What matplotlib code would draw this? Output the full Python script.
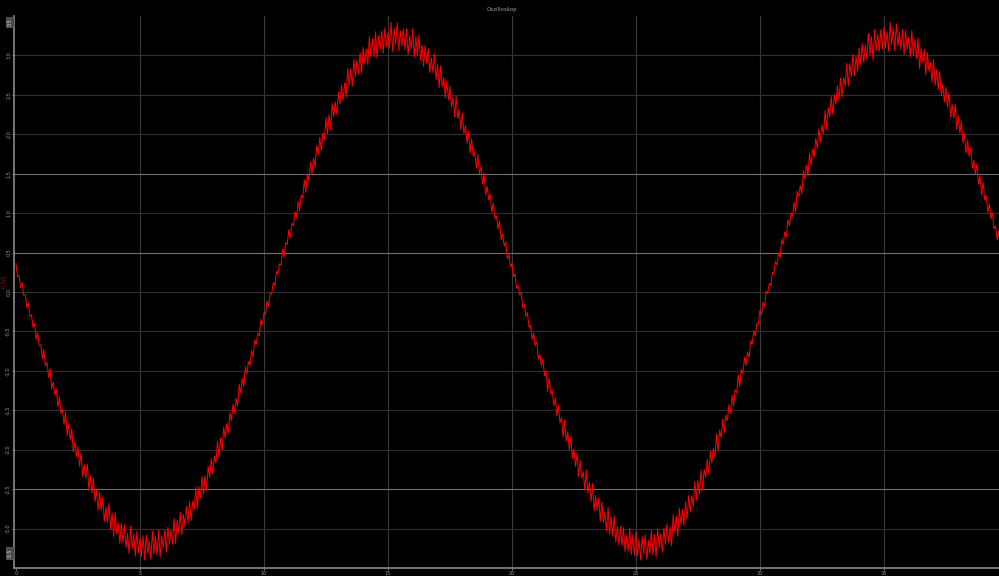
import matplotlib
matplotlib.use("Agg")
import matplotlib.pyplot as plt
import numpy as np

# scope trace read off the screen, sampled every 0.0625 time units:
# upper = tops of the noise band (t = 0, 0.125, ...),
# lower = bottoms of the noise band (t = 0.0625, 0.1875, ...)
sample_dt = 0.0625
upper = [
    0.36, 0.21, 0.12, -0.03, -0.14, -0.29, -0.40, -0.51, -0.67, -0.73,
    -0.89, -0.97, -1.14, -1.23, -1.33, -1.49, -1.52, -1.67, -1.73, -1.90,
    -1.96, -2.04, -2.19, -2.18, -2.33, -2.36, -2.51, -2.54, -2.60, -2.73,
    -2.68, -2.80, -2.80, -2.93, -2.93, -2.95, -3.06, -2.97, -3.07, -3.03,
    -3.13, -3.09, -3.08, -3.16, -3.03, -3.10, -3.02, -3.09, -3.02, -2.98,
    -3.02, -2.87, -2.89, -2.79, -2.82, -2.72, -2.65, -2.65, -2.47, -2.47,
    -2.34, -2.33, -2.21, -2.11, -2.08, -1.89, -1.85, -1.71, -1.67, -1.53,
    -1.42, -1.35, -1.17, -1.10, -0.95, -0.88, -0.74, -0.61, -0.52, -0.35,
    -0.26, -0.11, -0.02, 0.12, 0.26, 0.36, 0.54, 0.63, 0.79, 0.87,
    1.02, 1.15, 1.23, 1.42, 1.50, 1.65, 1.70, 1.85, 1.96, 2.02,
    2.21, 2.25, 2.39, 2.41, 2.53, 2.63, 2.65, 2.83, 2.83, 2.95,
    2.94, 3.04, 3.10, 3.08, 3.24, 3.21, 3.30, 3.25, 3.31, 3.35,
    3.29, 3.42, 3.35, 3.41, 3.31, 3.34, 3.34, 3.25, 3.34, 3.24,
    3.26, 3.13, 3.13, 3.09, 2.97, 3.02, 2.89, 2.87, 2.72, 2.68,
    2.61, 2.47, 2.48, 2.32, 2.27, 2.11, 2.04, 1.94, 1.78, 1.75,
    1.59, 1.51, 1.34, 1.24, 1.13, 0.96, 0.90, 0.74, 0.64, 0.47,
    0.36, 0.23, 0.08, -0.01, -0.16, -0.26, -0.42, -0.52, -0.63, -0.79,
    -0.85, -1.00, -1.09, -1.25, -1.34, -1.44, -1.59, -1.62, -1.77, -1.83,
    -1.99, -2.05, -2.13, -2.28, -2.26, -2.41, -2.43, -2.58, -2.61, -2.66,
    -2.79, -2.73, -2.85, -2.84, -2.97, -2.97, -2.99, -3.09, -2.99, -3.08,
    -3.04, -3.14, -3.10, -3.08, -3.15, -3.02, -3.08, -3.00, -3.07, -2.99,
    -2.94, -2.98, -2.82, -2.84, -2.74, -2.76, -2.66, -2.58, -2.58, -2.40,
    -2.39, -2.26, -2.25, -2.12, -2.02, -1.98, -1.80, -1.75, -1.61, -1.56,
    -1.43, -1.31, -1.24, -1.05, -0.98, -0.83, -0.76, -0.62, -0.49, -0.40,
    -0.23, -0.13, 0.01, 0.11, 0.25, 0.39, 0.49, 0.67, 0.76, 0.92,
    1.00, 1.14, 1.28, 1.35, 1.54, 1.61, 1.76, 1.81, 1.95, 2.07,
    2.12, 2.30, 2.34, 2.48, 2.50, 2.62, 2.71, 2.72, 2.90, 2.90,
    3.02, 2.99, 3.09, 3.15, 3.13, 3.28, 3.24, 3.33, 3.27, 3.33,
    3.36, 3.30, 3.42, 3.35, 3.40, 3.30, 3.33, 3.32, 3.23, 3.31,
    3.20, 3.22, 3.09, 3.08, 3.04, 2.91, 2.95, 2.82, 2.80, 2.64,
    2.60, 2.53, 2.38, 2.38, 2.23, 2.17, 2.00, 1.93, 1.83, 1.67,
    1.63, 1.47, 1.39, 1.22, 1.12, 1.00, 0.84, 0.77,
]
lower = [
    0.19, 0.05, -0.04, -0.20, -0.31, -0.45, -0.60, -0.68, -0.85, -0.94,
    -1.08, -1.23, -1.30, -1.46, -1.54, -1.68, -1.82, -1.87, -2.03, -2.09,
    -2.21, -2.34, -2.36, -2.51, -2.55, -2.66, -2.77, -2.77, -2.91, -2.92,
    -3.01, -3.10, -3.07, -3.19, -3.18, -3.24, -3.32, -3.26, -3.35, -3.31,
    -3.35, -3.40, -3.32, -3.39, -3.32, -3.34, -3.36, -3.25, -3.30, -3.20,
    -3.20, -3.19, -3.06, -3.08, -2.97, -2.93, -2.90, -2.76, -2.75, -2.62,
    -2.56, -2.51, -2.35, -2.31, -2.17, -2.09, -2.02, -1.85, -1.79, -1.63,
    -1.54, -1.45, -1.28, -1.20, -1.04, -0.93, -0.83, -0.66, -0.56, -0.41,
    -0.29, -0.18, -0.02, 0.08, 0.23, 0.34, 0.44, 0.60, 0.69, 0.84,
    0.94, 1.03, 1.19, 1.26, 1.41, 1.50, 1.58, 1.74, 1.79, 1.93,
    2.00, 2.06, 2.22, 2.25, 2.38, 2.43, 2.47, 2.61, 2.61, 2.73,
    2.76, 2.77, 2.90, 2.88, 2.98, 2.98, 2.97, 3.08, 3.03, 3.11,
    3.09, 3.05, 3.14, 3.06, 3.12, 3.07, 3.01, 3.08, 2.98, 3.00,
    2.94, 2.86, 2.90, 2.78, 2.78, 2.69, 2.59, 2.60, 2.46, 2.44,
    2.34, 2.22, 2.20, 2.06, 2.01, 1.89, 1.76, 1.72, 1.57, 1.50,
    1.37, 1.23, 1.17, 1.01, 0.93, 0.80, 0.66, 0.58, 0.42, 0.32,
    0.19, 0.05, -0.04, -0.20, -0.31, -0.45, -0.60, -0.68, -0.85, -0.94,
    -1.06, -1.26, -1.29, -1.44, -1.57, -1.66, -1.84, -1.89, -2.00, -2.11,
    -2.21, -2.34, -2.36, -2.51, -2.55, -2.66, -2.77, -2.77, -2.91, -2.92,
    -3.03, -3.08, -3.10, -3.17, -3.21, -3.22, -3.30, -3.29, -3.33, -3.34,
    -3.35, -3.40, -3.32, -3.39, -3.32, -3.34, -3.36, -3.25, -3.30, -3.20,
    -3.18, -3.22, -3.04, -3.10, -2.95, -2.96, -2.88, -2.79, -2.72, -2.64,
    -2.56, -2.51, -2.35, -2.31, -2.17, -2.09, -2.02, -1.85, -1.79, -1.63,
    -1.54, -1.45, -1.28, -1.20, -1.04, -0.93, -0.83, -0.66, -0.56, -0.41,
    -0.29, -0.18, -0.02, 0.08, 0.23, 0.34, 0.44, 0.60, 0.69, 0.84,
    0.96, 1.01, 1.21, 1.24, 1.43, 1.47, 1.60, 1.71, 1.82, 1.90,
    2.00, 2.06, 2.22, 2.25, 2.38, 2.43, 2.47, 2.61, 2.61, 2.73,
    2.74, 2.80, 2.88, 2.91, 2.95, 3.01, 2.94, 3.06, 3.05, 3.08,
    3.09, 3.05, 3.14, 3.06, 3.12, 3.07, 3.01, 3.08, 2.98, 3.00,
    2.96, 2.83, 2.92, 2.75, 2.80, 2.66, 2.62, 2.57, 2.49, 2.41,
    2.34, 2.22, 2.20, 2.06, 2.01, 1.89, 1.76, 1.72, 1.57, 1.50,
    1.37, 1.23, 1.17, 1.01, 0.93, 0.80, 0.66, 0.58,
]
x_ticks = [0, 5, 10, 15, 20, 25, 30, 35]
y_ticks = [-3.0, -2.5, -2.0, -1.5, -1.0, -0.5, 0.0, 0.5, 1.0, 1.5, 2.0, 2.5, 3.0]
bright_grid = [1.5, 0.5, -2.5]
y_min, y_max = -3.5, 3.5
title = "Oszilloskop"
y_label = "U [V]"

volts = np.column_stack((upper, lower)).ravel()
t = np.arange(len(volts)) * sample_dt

fig = plt.figure(figsize=(9.99, 5.76), dpi=100, facecolor="black")
ax = fig.add_axes([14 / 999, 8 / 576, 1 - 14 / 999, 552 / 576])
ax.set_facecolor("black")

ax.plot(t, volts, color="#ff0000", lw=0.7, zorder=3)

ax.set_xlim(-0.08, 39.64)
ax.set_ylim(y_min, y_max)
ax.set_xticks(x_ticks)
ax.set_yticks(y_ticks)
ax.set_yticklabels([f"{v:.1f}" for v in y_ticks], rotation=90, va="center")

for v in x_ticks[1:]:
    ax.axvline(v, color="#3a3a3a", lw=0.8, zorder=1)
for v in y_ticks:
    c = "#707070" if v in bright_grid else "#303030"
    ax.axhline(v, color=c, lw=0.8, zorder=1)

for s in ["top", "right"]:
    ax.spines[s].set_visible(False)
for s in ["left", "bottom"]:
    ax.spines[s].set_color("#8a8a8a")
    ax.spines[s].set_linewidth(1.2)
ax.tick_params(colors="#9a9a9a", labelsize=3.5, length=1.5, width=0.6, pad=0.5)

# y label sits in the narrow strip left of the tick labels
fig.text(3.5 / 999, 1 - 282 / 576, y_label, color="#cc0000", fontsize=3.5,
         rotation=90, ha="center", va="center")
fig.text(0.503, 1 - 10 / 576, title, color="#9a9a9a", fontsize=4, ha="center", va="center")

# axis limit boxes
box = dict(boxstyle="square,pad=0.25", fc="#4a4a4a", ec="#6a6a6a", lw=0.5)
fig.text(10 / 999, 1 - 22 / 576, f"{y_max:.1f}", color="#cfcfcf", fontsize=3.5,
         rotation=90, ha="center", va="center", bbox=box)
fig.text(10 / 999, 1 - 553 / 576, f"{y_min:.1f}", color="#cfcfcf", fontsize=3.5,
         rotation=90, ha="center", va="center", bbox=box)

fig.savefig("out.png", dpi=100, facecolor="black")
